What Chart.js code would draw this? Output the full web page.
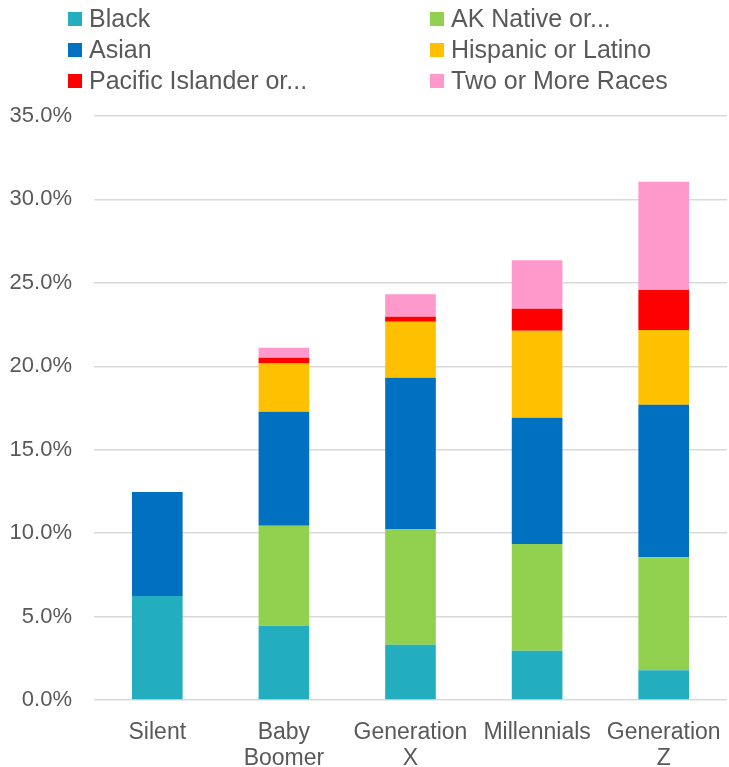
<!DOCTYPE html>
<html>
<head>
<meta charset="utf-8">
<script src="https://cdn.jsdelivr.net/npm/chart.js@4"></script>
<style>
  html, body { margin: 0; padding: 0; background: #fff; overflow: hidden; }
  #wrap { position: relative; width: 729px; height: 767px; }
  #legend {
    position: absolute; left: 68px; top: 3px;
    display: grid; grid-template-columns: 362px 300px;
    font-family: "Liberation Sans", Arial, sans-serif; font-size: 25px; color: #595959;
  }
  .item { height: 31px; line-height: 31px; white-space: nowrap; display: flex; align-items: center; }
  .box { width: 14px; height: 14px; margin-right: 7px; flex: none; }
</style>
</head>
<body>
<div id="wrap">
  <canvas id="chart" width="729" height="767"></canvas>
  <div id="legend"></div>
</div>
<script>
const categories = [['Silent'], ['Baby', 'Boomer'], ['Generation', 'X'], ['Millennials'], ['Generation', 'Z']];
const seriesNames = ['Black', 'AK Native or...', 'Asian', 'Hispanic or Latino', 'Pacific Islander or...', 'Two or More Races'];
const seriesColors = ['#23AEC0', '#92D050', '#0070C0', '#FFC000', '#FF0000', '#FF99CC'];

// percent values, stacked bottom to top
const black     = [6.23, 4.45, 3.31, 2.95, 1.78];
const akNative  = [0, 6.00, 6.94, 6.40, 6.77];
const asian     = [6.23, 6.82, 9.06, 7.57, 9.14];
const hispanic  = [0, 2.90, 3.36, 5.21, 4.48];
const pacific   = [0, 0.34, 0.30, 1.32, 2.40];
const twoOrMore = [0, 0.60, 1.34, 2.91, 6.49];

const yTicks = [0, 5, 10, 15, 20, 25, 30, 35];

const seriesValues = [black, akNative, asian, hispanic, pacific, twoOrMore];
const textColor = '#595959';
const font = 'Liberation Sans, Arial, sans-serif';

const datasets = seriesNames.map((name, i) => ({
  label: name,
  data: seriesValues[i],
  backgroundColor: seriesColors[i],
  borderWidth: 0,
  barPercentage: 0.4,
  categoryPercentage: 1.0
}));

// legend in two columns, row by row
const legend = document.getElementById('legend');
seriesNames.forEach((name, i) => {
  const d = document.createElement('div');
  d.className = 'item';
  d.innerHTML = '<span class="box" style="background:' + seriesColors[i] + '"></span><span></span>';
  d.lastChild.textContent = name;
  legend.appendChild(d);
});

new Chart(document.getElementById('chart'), {
  type: 'bar',
  data: { labels: categories, datasets: datasets },
  options: {
    responsive: false,
    animation: false,
    layout: { padding: { top: 116, right: 2, left: 8, bottom: 0 } },
    plugins: { legend: { display: false }, tooltip: { enabled: false } },
    scales: {
      x: {
        stacked: true,
        grid: { display: false },
        border: { display: false },
        ticks: { color: textColor, font: { family: font, size: 23, lineHeight: 1.13 }, padding: 12, maxRotation: 0, autoSkip: false },
        afterFit: s => { s.height = 67; s.paddingLeft = 0; s.paddingRight = 0; }
      },
      y: {
        stacked: true,
        min: 0,
        max: 35,
        afterBuildTicks: s => { s.ticks = yTicks.map(v => ({ value: v })); },
        grid: { color: '#D9D9D9', lineWidth: 1.5, drawTicks: false },
        border: { display: false },
        ticks: { color: textColor, font: { family: font, size: 22 }, padding: 22, callback: v => v.toFixed(1) + '%' },
        afterFit: s => { s.width = 86; }
      }
    }
  }
});
</script>
</body>
</html>
